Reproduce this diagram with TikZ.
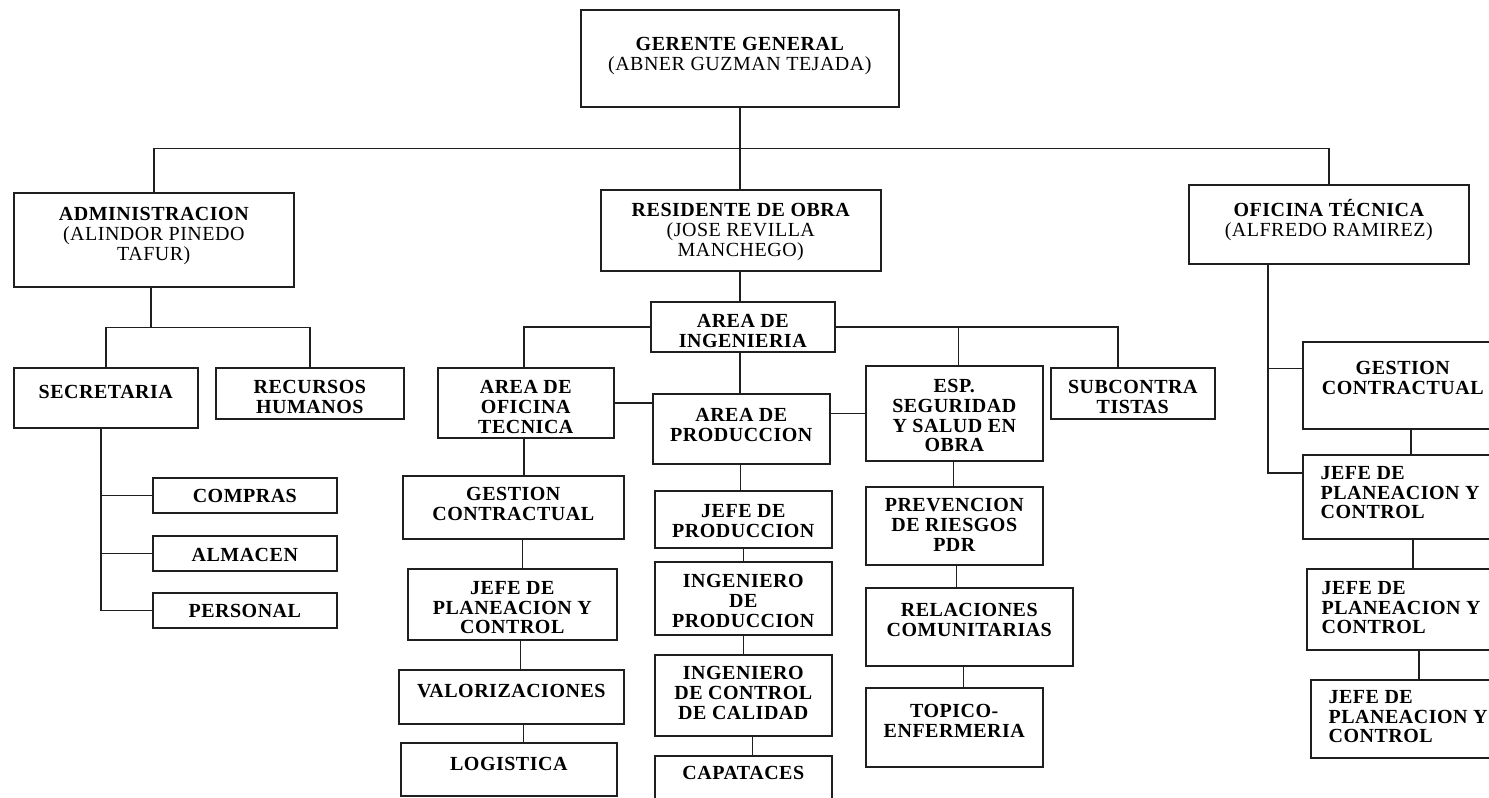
\documentclass[tikz,border=0pt]{standalone}
\usepackage{fontspec}
\setmainfont[LetterSpace=2.5]{Liberation Serif}
\usetikzlibrary{calc}
\definecolor{linegray}{HTML}{1f1f1f}
\newcommand{\orgfont}{\fontsize{20}{19.6}\selectfont\bfseries}
\tikzset{
  caption/.style={draw=none, fill=none, path picture={}, inner sep=0pt,
    minimum width=0pt, minimum height=0pt, align=center, font=\orgfont},
  unit/.style 2 args={draw=linegray, line width=1.6pt, inner sep=0pt, anchor=north west,
    path picture={\node[caption, anchor=north] at ([yshift=-#1]path picture bounding box.north) {#2};}},
  unitleft/.style n args={3}{draw=linegray, line width=1.6pt, inner sep=0pt, anchor=north west,
    path picture={\node[caption, align=left, anchor=north west] at ([xshift=#1,yshift=-#2]path picture bounding box.north west) {#3};}},
  wire/.style={draw=linegray, line width=1.5pt},
}
\begin{document}
\begin{tikzpicture}[x=1pt,y=-1pt]
        \fill[white] (0,0) rectangle (1489,798);
        \useasboundingbox (0,0) rectangle (1489,798);
        \clip (0,0) rectangle (1489,798);
        % First level
        \node[unit={27}{GERENTE GENERAL\\\mdseries(ABNER GUZMAN TEJADA)}, minimum width=318, minimum height=97] (ger) at (580,9) {};
        \node[unit={14}{ADMINISTRACION\\\mdseries(ALINDOR PINEDO\\\mdseries TAFUR)}, minimum width=280, minimum height=94] (adm) at (13,192) {};
        \node[unit={13}{RESIDENTE DE OBRA\\\mdseries(JOSE REVILLA\\\mdseries MANCHEGO)}, minimum width=280, minimum height=81] (res) at (600,189) {};
        \node[unit={14}{OFICINA TÉCNICA\\\mdseries(ALFREDO RAMIREZ)}, minimum width=280, minimum height=79] (ofi) at (1188,184) {};
        % Administracion
        \node[unit={17}{SECRETARIA}, minimum width=184, minimum height=60] (sec) at (13,367) {};
        \node[unit={12}{RECURSOS\\HUMANOS}, minimum width=188, minimum height=51] (rh) at (215,367) {};
        \node[unit={11}{COMPRAS}, minimum width=184, minimum height=35] (com) at (152,477) {};
        \node[unit={12}{ALMACEN}, minimum width=184, minimum height=35] (alm) at (152,535) {};
        \node[unit={11}{PERSONAL}, minimum width=184, minimum height=35] (per) at (152,592) {};
        % Residente de obra
        \node[unit={12}{AREA DE\\INGENIERIA}, minimum width=184, minimum height=50] (ing) at (650,301) {};
        \node[unit={12}{AREA DE\\OFICINA\\TECNICA}, minimum width=176, minimum height=70] (aot) at (437,367) {};
        \node[unit={14}{AREA DE\\PRODUCCION}, minimum width=177, minimum height=70] (pro) at (652,393) {};
        \node[unit={13}{ESP.\\SEGURIDAD\\Y SALUD EN\\OBRA}, minimum width=177, minimum height=95] (esp) at (865,365) {};
        \node[unit={12}{SUBCONTRA\\TISTAS}, minimum width=164, minimum height=51] (sub) at (1050,367) {};
        \node[unit={11}{GESTION\\CONTRACTUAL}, minimum width=221, minimum height=63] (gcm) at (402,475) {};
        \node[unit={12}{JEFE DE\\PLANEACION Y\\CONTROL}, minimum width=209, minimum height=71] (jpm) at (407,568) {};
        \node[unit={14}{VALORIZACIONES}, minimum width=225, minimum height=54] (val) at (398,669) {};
        \node[unit={14}{LOGISTICA}, minimum width=216, minimum height=53] (log) at (400,742) {};
        \node[unit={13}{JEFE DE\\PRODUCCION}, minimum width=177, minimum height=57] (jpr) at (654,490) {};
        \node[unit={12}{INGENIERO\\DE\\PRODUCCION}, minimum width=177, minimum height=73] (ipr) at (654,561) {};
        \node[unit={11}{INGENIERO\\DE CONTROL\\DE CALIDAD}, minimum width=177, minimum height=81] (icc) at (654,654) {};
        \node[unit={10}{CAPATACES}, minimum width=177, minimum height=75] (cap) at (654,755) {};
        \node[unit={11}{PREVENCION\\DE RIESGOS\\PDR}, minimum width=177, minimum height=78] (pdr) at (865,486) {};
        \node[unit={15}{RELACIONES\\COMUNITARIAS}, minimum width=207, minimum height=78] (rel) at (865,587) {};
        \node[unit={16}{TOPICO-\\ENFERMERIA}, minimum width=177, minimum height=79] (tpc) at (865,687) {};
        % Oficina tecnica
        \node[unit={19}{GESTION\\CONTRACTUAL}, minimum width=200, minimum height=87] (gcr) at (1302,341) {};
        \node[unitleft={17}{11}{JEFE DE\\PLANEACION Y\\CONTROL}, minimum width=200, minimum height=84] (jr1) at (1302,454) {};
        \node[unitleft={14}{12}{JEFE DE\\PLANEACION Y\\CONTROL}, minimum width=196, minimum height=81] (jr2) at (1306,568) {};
        \node[unitleft={17}{10}{JEFE DE\\PLANEACION Y\\CONTROL}, minimum width=192, minimum height=78] (jr3) at (1310,679) {};
        % Forks
        \coordinate (gerfork) at ($(ger.south)!.5!(res.north)$);
        \coordinate (admfork) at ($(adm.south)!.5!(sec.north)$);
        % Wires from the top
        \draw[wire] (ger.south) -- (ger.south |- res.north);
        \draw[wire] (adm.north) |- (gerfork) -| (ofi.north);
        \draw[wire] ([xshift=-3]adm.south) -- ([xshift=-3]adm.south |- admfork);
        \draw[wire] (sec.north) |- (admfork) -| (rh.north);
        \foreach \n in {com,alm,per}
          \draw[wire] ([xshift=-5]sec.south) |- (\n.west);
        % Area de ingenieria
        \draw[wire] ([xshift=-1]res.south) -- ([xshift=-1]res.south |- ing.north);
        \draw[wire] (ing.west) -| ([xshift=-2]aot.north);
        \draw[wire] (ing.east) -| ([xshift=4]esp.north);
        \draw[wire] (ing.east) -| ([xshift=-15]sub.north);
        \draw[wire] ([xshift=-3]ing.south) -- ([xshift=-3]ing.south |- pro.north);
        \draw[wire] (aot.east) -- (aot.east -| pro.west);
        \draw[wire] (esp.west) -- (esp.west -| pro.east);
        % Vertical chains
        \foreach \a/\b/\s in {aot/gcm/-2, gcm/jpm/9, jpm/val/8, val/log/12,
                              pro/jpr/-1, jpr/ipr/0, ipr/icc/0, icc/cap/9,
                              esp/pdr/-1, pdr/rel/2, rel/tpc/-6,
                              gcr/jr1/8, jr1/jr2/10, jr2/jr3/14}
          \draw[wire] ([xshift=\s]\a.south) -- ([xshift=\s]\a.south |- \b.north);
        % Oficina tecnica branches
        \draw[wire] ([xshift=-61]ofi.south) |- ([yshift=17]gcr.west);
        \draw[wire] ([xshift=-61]ofi.south) |- ([yshift=24]jr1.west);
      \end{tikzpicture}
\end{document}
